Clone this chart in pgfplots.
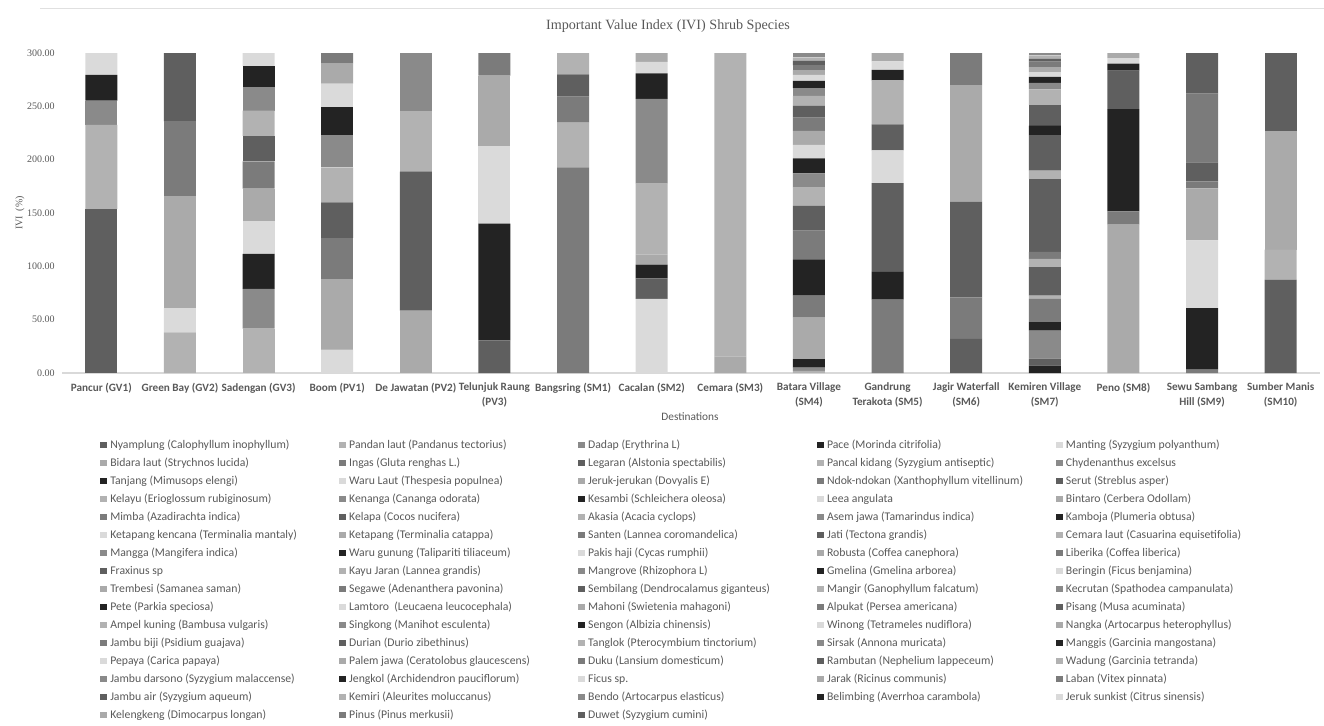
\documentclass[border=0pt]{standalone}
\usepackage{fontspec}
\setmainfont{Carlito}
\newfontfamily\tnr{Liberation Serif}
\usepackage{pgfplots}
\usepackage{pgfplotstable}
\pgfplotsset{compat=1.18}
\definecolor{cA}{HTML}{5F5F5F}
\definecolor{cB}{HTML}{B2B2B2}
\definecolor{cC}{HTML}{8A8A8A}
\definecolor{cD}{HTML}{232323}
\definecolor{cE}{HTML}{DADADA}
\definecolor{cF}{HTML}{AAAAAA}
\definecolor{cG}{HTML}{7B7B7B}
\definecolor{txt}{HTML}{595959}
\pgfplotscreateplotcyclelist{mono}{
{fill=cA,draw=none},{fill=cB,draw=none},{fill=cC,draw=none},{fill=cD,draw=none},{fill=cE,draw=none},{fill=cF,draw=none},{fill=cG,draw=none}}
\newcommand{\LE}[1]{\makebox[171.5pt][l]{#1}}
\pgfplotstableread{
id c1 c2 c3 c4 c5 c6 c7 c8 c9 c10 c11 c12 c13 c14 c15 c16
s1 153.8 0 0 0 0 0 0 0 0 0 0 0 0 0 0 0
s2 78.8 38.1 0 0 0 0 0 0 0 0 0 0 0 0 0 0
s3 22.8 0 0 0 0 0 0 0 0 0 0 0 0 0 0 0
s4 24.1 0 0 0 0 0 0 0 0 0 0 0 6.9 0 0 0
s5 20.6 22.8 0 0 0 0 0 0 0 0 0 0 0 0 0 0
s6 0 104.7 0 0 0 0 0 0 0 0 0 0 0 0 0 0
s7 0 70.3 0 0 0 0 0 0 0 0 0 0 0 0 0 0
s8 0 64.1 0 0 0 0 0 0 0 0 0 0 6.6 0 0 0
s9 0 0 41.6 0 0 0 0 0 0 0 0 0 0 0 0 0
s10 0 0 37.2 0 0 0 0 0 0 0 0 0 26.3 0 0 0
s11 0 0 32.8 0 0 0 0 0 0 0 0 0 7.8 0 0 0
s12 0 0 31.3 0 0 0 0 0 0 0 0 0 0 0 0 0
s13 0 0 30.0 0 0 0 0 0 0 0 0 0 0 0 0 0
s14 0 0 25.6 0 0 0 0 0 0 0 0 0 21.9 0 0 0
s15 0 0 23.8 0 0 0 0 0 0 0 0 0 0 0 0 0
s16 0 0 23.7 0 0 0 0 0 0 0 0 0 3.1 0 0 0
s17 0 0 22.2 0 0 0 0 0 0 0 0 0 0 0 0 0
s18 0 0 19.4 0 0 0 0 0 0 0 0 0 0 0 0 0
s19 0 0 12.5 21.9 0 0 0 0 0 0 0 0 0 0 0 0
s20 0 0 0 66.3 0 0 0 0 0 0 0 0 0 0 0 0
s21 0 0 0 38.4 0 0 0 0 0 0 0 0 0 0 0 0
s22 0 0 0 33.4 0 0 0 0 0 0 0 0 26.6 0 0 0
s23 0 0 0 32.8 0 0 0 0 0 0 0 0 7.8 0 0 0
s24 0 0 0 30.0 0 0 0 0 0 0 0 0 0 0 0 0
s25 0 0 0 26.6 0 0 0 0 0 0 0 0 0 0 0 0
s26 0 0 0 21.9 0 0 0 0 0 0 0 0 0 0 0 0
s27 0 0 0 18.8 0 0 0 0 15.6 0 0 0 0 0 0 0
s28 0 0 0 10.0 0 0 0 0 0 0 0 0 6.6 0 0 0
s29 0 0 0 0 0 0 0 0 0 0 0 0 68.4 0 0 0
s30 0 0 0 0 0 0 0 0 284.4 0 0 0 7.8 0 0 0
s31 0 0 0 0 0 0 0 0 0 0 0 0 0 0 0 0
s32 0 0 0 0 0 0 0 0 0 0 0 0 0 0 0 0
s33 0 0 0 0 0 0 0 0 0 0 0 0 0 0 0 0
s34 0 0 0 0 58.4 0 0 0 0 0 0 0 0 0 0 0
s35 0 0 0 0 0 0 0 0 0 0 0 0 0 0 0 0
s36 0 0 0 0 130.3 30.6 0 0 0 0 0 0 33.1 0 0 0
s37 0 0 0 0 57.2 0 0 0 0 0 0 0 0 0 0 0
s38 0 0 0 0 54.1 0 0 0 0 0 0 0 0 0 0 0
s39 0 0 0 0 0 109.4 0 0 0 0 0 0 9.1 0 0 0
s40 0 0 0 0 0 73.1 0 0 0 0 0 0 0 0 0 0
s41 0 0 0 0 0 65.6 0 0 0 0 0 0 0 0 0 0
s42 0 0 0 0 0 21.3 192.8 0 0 0 0 0 0 0 3.1 0
s43 0 0 0 0 0 0 0 0 0 0 0 0 19.1 0 0 0
s44 0 0 0 0 0 0 41.9 0 0 2.0 0 0 14.7 0 0 0
s45 0 0 0 0 0 0 0 0 0 3.0 0 0 6.3 0 0 0
s46 0 0 0 0 0 0 0 0 0 8.1 0 0 5.6 0 57.8 0
s47 0 0 0 0 0 0 0 69.4 0 0 0 0 4.4 0 63.4 0
s48 0 0 0 0 0 0 0 0 0 38.8 0 0 4.7 0 48.8 0
s49 0 0 0 0 0 0 24.4 0 0 20.6 68.8 0 5.0 0 6.6 0
s50 0 0 0 0 0 0 20.9 19.4 0 0 0 31.9 2.8 0 17.8 0
s51 0 0 0 0 0 0 20.0 0 0 0 0 0 3.1 0 0 0
s52 0 0 0 0 0 0 0 0 0 0 0 0 2.5 0 0 0
s53 0 0 0 0 0 0 0 12.8 0 34.1 25.9 0 0 0 0 0
s54 0 0 0 0 0 0 0 0 0 0 0 0 0 0 0 0
s55 0 0 0 0 0 0 0 9.4 0 0 0 0 0 139.1 0 0
s56 0 0 0 0 0 0 0 0 0 26.9 0 39.1 0 12.5 64.4 0
s57 0 0 0 0 0 0 0 0 0 23.1 83.4 89.7 0 0 38.1 0
s58 0 0 0 0 0 0 0 66.6 0 17.2 0 0 0 0 0 0
s59 0 0 0 0 0 0 0 79.4 0 13.4 0 0 0 0 0 0
s60 0 0 0 0 0 0 0 23.8 0 14.1 0 0 0 95.9 0 0
s61 0 0 0 0 0 0 0 10.9 0 12.5 30.6 0 0 0 0 0
s62 0 0 0 0 0 0 0 8.4 0 13.1 0 109.1 0 0 0 0
s63 0 0 0 0 0 0 0 0 0 12.5 0 30.3 0 0 0 0
s64 0 0 0 0 0 0 0 0 0 11.3 24.4 0 0 35.9 0 0
s65 0 0 0 0 0 0 0 0 0 9.1 41.3 0 0 0 0 0
s66 0 0 0 0 0 0 0 0 0 7.2 0 0 0 0 0 0
s67 0 0 0 0 0 0 0 0 0 6.9 9.7 0 0 6.6 0 0
s68 0 0 0 0 0 0 0 0 0 5.6 8.1 0 0 5.3 0 0
s69 0 0 0 0 0 0 0 0 0 4.4 7.8 0 0 4.7 0 0
s70 0 0 0 0 0 0 0 0 0 4.4 0 0 0 0 0 0
s71 0 0 0 0 0 0 0 0 0 4.4 0 0 0 0 0 87.5
s72 0 0 0 0 0 0 0 0 0 3.1 0 0 0 0 0 28.1
s73 0 0 0 0 0 0 0 0 0 4.0 0 0 0 0 0 0
s74 0 0 0 0 0 0 0 0 0 0 0 0 0 0 0 0
s75 0 0 0 0 0 0 0 0 0 0 0 0 0 0 0 0
s76 0 0 0 0 0 0 0 0 0 0 0 0 0 0 0 111.6
s77 0 0 0 0 0 0 0 0 0 0 0 0 0 0 0 0
s78 0 0 0 0 0 0 0 0 0 0 0 0 0 0 0 72.8
}\ivi
\pgfplotstabletranspose[colnames from=id]{\ivit}{\ivi}
\begin{document}
\begin{tikzpicture}
\useasboundingbox (0,0) rectangle (993pt,543.75pt);
\draw[black!12, line width=0.6pt] (30pt,537.75pt) -- (993pt,537.75pt);
\begin{axis}[
  at={(46.5pt,264pt)}, anchor=south west,
  scale only axis, width=943.5pt, height=240pt,
  ybar stacked, bar width=24pt,
  legend image code/.code={\fill[#1] (0pt,-2.6pt) rectangle (5.2pt,2.6pt);},
  cycle list name=mono,
  xmin=-0.5, xmax=15.5, ymin=0, ymax=300,
  xtick={0,...,15},
  xticklabels={Pancur (GV1), Green Bay (GV2), Sadengan (GV3), Boom (PV1), De Jawatan (PV2), {Telunjuk Raung\\(PV3)}, Bangsring (SM1), Cacalan (SM2), Cemara (SM3), {Batara Village\\(SM4)}, {Gandrung\\Terakota (SM5)}, {Jagir Waterfall\\(SM6)}, {Kemiren Village\\(SM7)}, Peno (SM8), {Sewu Sambang\\Hill (SM9)}, {Sumber Manis\\(SM10)}},
  ytick={0,50,...,300},
  axis line style={draw=none},
  tick style={draw=none},
  extra y ticks={0}, extra y tick labels={},
  extra y tick style={grid=major, major grid style={draw=black!15, line width=0.9pt}},
  /pgf/number format/fixed, /pgf/number format/fixed zerofill,
  /pgf/number format/precision=2, /pgf/number format/assume math mode=true,
  xticklabel style={font=\bfseries\fontsize{8.4}{11}\selectfont, text=txt, align=center, yshift=-4pt},
  yticklabel style={font=\tnr\fontsize{7.5}{9}\selectfont, text=txt, xshift=-2pt},
  title={Important Value Index (IVI) Shrub Species},
  title style={at={(axis description cs:0.4817,1.0594)}, anchor=center, font=\tnr\fontsize{10.6}{12}\selectfont, text=txt},
  ylabel={IVI\ \ (\%)},
  ylabel style={at={(axis description cs:-0.0334,0.5)}, anchor=center, font=\tnr\fontsize{7.5}{9}\selectfont, text=txt},
  xlabel={Destinations},
  xlabel style={at={(axis description cs:0.4992,-0.1375)}, anchor=center, font=\fontsize{8.5}{10}\selectfont, text=txt},
  legend columns=5,
  legend cell align=left,
  legend style={at={(axis description cs:0.0302,-0.20625)}, anchor=north west, draw=none, fill=none, inner sep=0pt, outer sep=0pt,
    font=\fontsize{8.8}{10}\selectfont, text=txt,
    nodes={inner sep=0pt, text height=7pt, text depth=2pt},
    row sep=4.5pt, column sep=0pt,
    /tikz/every odd column/.append style={column sep=2.5pt}},
]
\pgfplotsinvokeforeach{1,...,78}{
  \addplot table[x expr=\coordindex, y=s#1]{\ivit};
}
\legend{
\LE{Nyamplung (Calophyllum inophyllum)}, \LE{Pandan laut (Pandanus tectorius)}, \LE{Dadap (Erythrina L)}, \LE{Pace (Morinda citrifolia)}, \LE{Manting (Syzygium polyanthum)},
\LE{Bidara laut (Strychnos lucida)}, \LE{Ingas (Gluta renghas L.)}, \LE{Legaran (Alstonia spectabilis)}, \LE{Pancal kidang (Syzygium antiseptic)}, \LE{Chydenanthus excelsus},
\LE{Tanjang (Mimusops elengi)}, \LE{Waru Laut (Thespesia populnea)}, \LE{Jeruk-jerukan (Dovyalis E)}, \LE{Ndok-ndokan (Xanthophyllum vitellinum)}, \LE{Serut (Streblus asper)},
\LE{Kelayu (Erioglossum rubiginosum)}, \LE{Kenanga (Cananga odorata)}, \LE{Kesambi (Schleichera oleosa)}, \LE{Leea angulata}, \LE{Bintaro (Cerbera Odollam)},
\LE{Mimba (Azadirachta indica)}, \LE{Kelapa (Cocos nucifera)}, \LE{Akasia (Acacia cyclops)}, \LE{Asem jawa (Tamarindus indica)}, \LE{Kamboja (Plumeria obtusa)},
\LE{Ketapang kencana (Terminalia mantaly)}, \LE{Ketapang (Terminalia catappa)}, \LE{Santen (Lannea coromandelica)}, \LE{Jati (Tectona grandis)}, \LE{Cemara laut (Casuarina equisetifolia)},
\LE{Mangga (Mangifera indica)}, \LE{Waru gunung (Talipariti tiliaceum)}, \LE{Pakis haji (Cycas rumphii)}, \LE{Robusta (Coffea canephora)}, \LE{Liberika (Coffea liberica)},
\LE{Fraxinus sp}, \LE{Kayu Jaran (Lannea grandis)}, \LE{Mangrove (Rhizophora L)}, \LE{Gmelina (Gmelina arborea)}, \LE{Beringin (Ficus benjamina)},
\LE{Trembesi (Samanea saman)}, \LE{Segawe (Adenanthera pavonina)}, \LE{Sembilang (Dendrocalamus giganteus)}, \LE{Mangir (Ganophyllum falcatum)}, \LE{Kecrutan (Spathodea campanulata)},
\LE{Pete (Parkia speciosa)}, \LE{Lamtoro\ \ (Leucaena leucocephala)}, \LE{Mahoni (Swietenia mahagoni)}, \LE{Alpukat (Persea americana)}, \LE{Pisang (Musa acuminata)},
\LE{Ampel kuning (Bambusa vulgaris)}, \LE{Singkong (Manihot esculenta)}, \LE{Sengon (Albizia chinensis)}, \LE{Winong (Tetrameles nudiflora)}, \LE{Nangka (Artocarpus heterophyllus)},
\LE{Jambu biji (Psidium guajava)}, \LE{Durian (Durio zibethinus)}, \LE{Tanglok (Pterocymbium tinctorium)}, \LE{Sirsak (Annona muricata)}, \LE{Manggis (Garcinia mangostana)},
\LE{Pepaya (Carica papaya)}, \LE{Palem jawa (Ceratolobus glaucescens)}, \LE{Duku (Lansium domesticum)}, \LE{Rambutan (Nephelium lappeceum)}, \LE{Wadung (Garcinia tetranda)},
\LE{Jambu darsono (Syzygium malaccense)}, \LE{Jengkol (Archidendron pauciflorum)}, \LE{Ficus sp.}, \LE{Jarak (Ricinus communis)}, \LE{Laban (Vitex pinnata)},
\LE{Jambu air (Syzygium aqueum)}, \LE{Kemiri (Aleurites moluccanus)}, \LE{Bendo (Artocarpus elasticus)}, \LE{Belimbing (Averrhoa carambola)}, \LE{Jeruk sunkist (Citrus sinensis)},
\LE{Kelengkeng (Dimocarpus longan)}, \LE{Pinus (Pinus merkusii)}, \LE{Duwet (Syzygium cumini)}}
\end{axis}
\end{tikzpicture}
\end{document}
